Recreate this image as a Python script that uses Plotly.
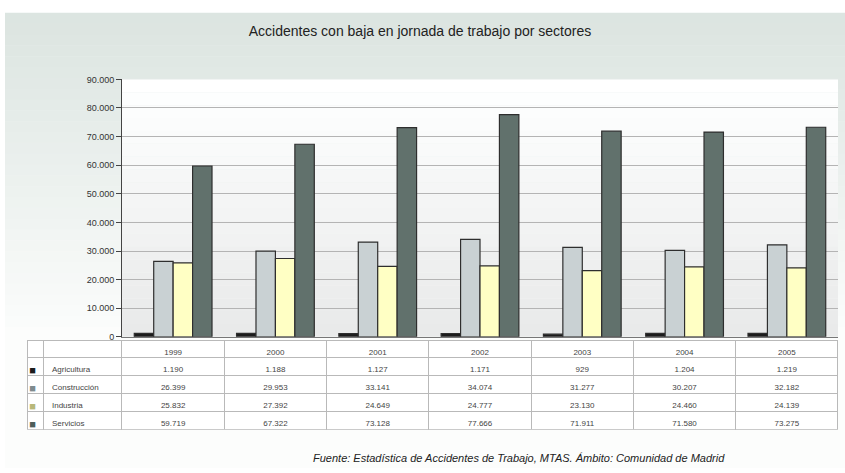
import plotly.graph_objects as go

# Accidentes con baja en jornada de trabajo, Comunidad de Madrid
years = ["1999", "2000", "2001", "2002", "2003", "2004", "2005"]
sectors = ["Agricultura", "Construcción", "Industria", "Servicios"]
agricultura = [1190, 1188, 1127, 1171, 929, 1204, 1219]
construccion = [26399, 29953, 33141, 34074, 31277, 30207, 32182]
industria = [25832, 27392, 24649, 24777, 23130, 24460, 24139]
servicios = [59719, 67322, 73128, 77666, 71911, 71580, 73275]
y_ticks = [0, 10000, 20000, 30000, 40000, 50000, 60000, 70000, 80000, 90000]

series = [agricultura, construccion, industria, servicios]
colors = ["#1c1c1c", "#c9d1d3", "#ffffc4", "#61716c"]
swatch_colors = ["#1c1c1c", "#7f8b8e", "#b8b87a", "#4f5e5a"]

W, H = 845, 473


def fy(px):
    return 1 - px / H


def fx(px):
    return px / W


fig = go.Figure()

for name, vals, col in zip(sectors, series, colors):
    fig.add_trace(go.Bar(
        x=years, y=vals, name=name,
        marker=dict(color=col, line=dict(color="#2e2e2e", width=1.2)),
        showlegend=False, hoverinfo="x+y+name",
    ))


def fmt(v):
    return f"{v:,}".replace(",", ".")


# data table below the bars: swatch column, sector names, one column per year
n_rows = len(sectors)
swatch_col = ["■"] * n_rows
cols = [swatch_col, sectors] + [[fmt(s[i]) for s in series] for i in range(len(years))]
text_color = "#444"
grid = "#b9b9b9"
cell_font_colors = [swatch_colors, [text_color] * n_rows] + [[text_color] * n_rows] * len(years)
cell_font_sizes = [11, 8] + [8] * len(years)

fig.add_trace(go.Table(
    domain=dict(x=[fx(27), fx(838)], y=[fy(434), fy(343)]),
    columnwidth=[17, 78] + [102.3] * len(years),
    header=dict(
        values=["", ""] + years,
        height=17,
        align="center",
        fill_color="white",
        line=dict(color=grid, width=1),
        font=dict(family="Liberation Sans, Arial", size=8, color=text_color),
    ),
    cells=dict(
        values=cols,
        height=18,
        align=["right", "left"] + ["center"] * len(years),
        fill_color="white",
        line=dict(color=grid, width=1),
        font=dict(family="Liberation Sans, Arial", size=cell_font_sizes, color=cell_font_colors),
    ),
))

shapes = []
# outer panel with a soft vertical gradient
top_rgb = (220, 229, 225)
bot_rgb = (252, 253, 252)
n = 30
p0, p1 = 8, 340
for k in range(n):
    t = k / (n - 1)
    r, g, b = [int(a + (c - a) * t) for a, c in zip(top_rgb, bot_rgb)]
    shapes.append(dict(
        type="rect", xref="paper", yref="paper", layer="below",
        x0=fx(5), x1=1, y0=fy(p0 + (p1 - p0) * (k + 1) / n + 0.5),
        y1=fy(p0 + (p1 - p0) * k / n),
        fillcolor=f"rgb({r},{g},{b})", line=dict(width=0),
    ))
shapes.append(dict(
    type="rect", xref="paper", yref="paper", layer="below",
    x0=fx(5), x1=1, y0=0, y1=fy(p1),
    fillcolor="rgb(252,253,252)", line=dict(width=0),
))
# plot area: white fading to a light grey near the base
m = 20
for k in range(m):
    t = k / (m - 1)
    v = int(255 - 22 * t)
    shapes.append(dict(
        type="rect", xref="x domain", yref="y domain", layer="below",
        x0=0, x1=1, y0=1 - (k + 1) / m, y1=1 - k / m,
        fillcolor=f"rgb({v},{v + 1},{v + 1})", line=dict(width=0),
    ))

fig.update_layout(
    width=W, height=H,
    margin=dict(l=0, r=0, t=0, b=0),
    paper_bgcolor="white",
    plot_bgcolor="rgba(0,0,0,0)",
    separators=",.",
    barmode="group",
    bargap=0.24,
    bargroupgap=0,
    shapes=shapes,
    title=dict(
        text="Accidentes con baja en jornada de trabajo por sectores",
        x=0.497, xanchor="center", y=fy(31), yanchor="middle",
        font=dict(family="Liberation Sans, Arial", size=14, color="#222"),
    ),
    xaxis=dict(
        domain=[fx(122), fx(838)],
        showticklabels=False, showgrid=False, ticks="",
        showline=True, linecolor="#777", linewidth=1,
    ),
    yaxis=dict(
        domain=[fy(339), fy(76)],
        range=[0, 90000],
        tickvals=y_ticks, tickformat=",d",
        showline=True, linecolor="#444", linewidth=1,
        ticks="outside", ticklen=5, tickcolor="#444",
        gridcolor="#b4b4b4", gridwidth=1,
        tickfont=dict(family="Liberation Sans, Arial", size=9, color="#333"),
        zeroline=False,
    ),
    annotations=[dict(
        text="<i>Fuente: Estadística de Accidentes de Trabajo, MTAS. Ámbito: Comunidad de Madrid</i>",
        xref="paper", yref="paper", x=fx(727), y=fy(463),
        xanchor="right", yanchor="middle", showarrow=False,
        font=dict(family="Liberation Sans, Arial", size=11, color="#222"),
    )],
)

fig.write_html("out.html")
